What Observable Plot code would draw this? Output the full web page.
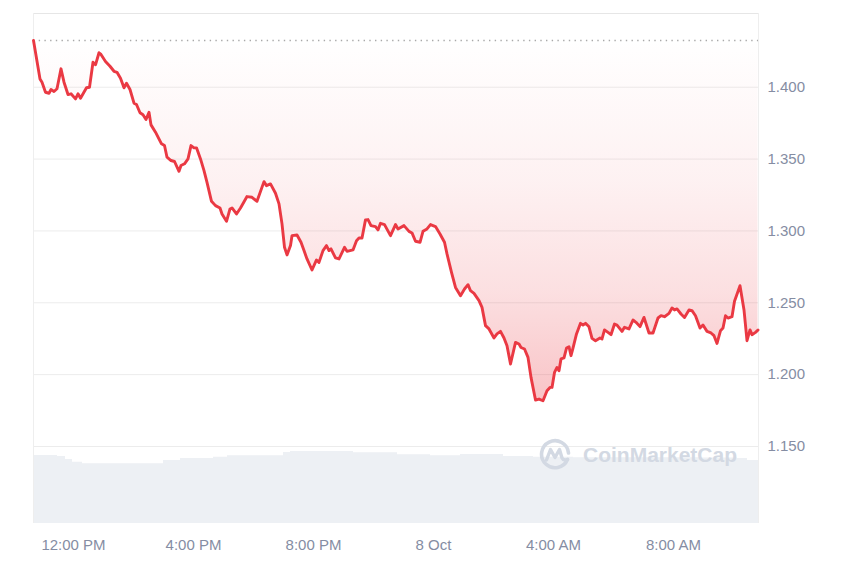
<!DOCTYPE html>
<html><head><meta charset="utf-8">
<script src="https://cdn.jsdelivr.net/npm/d3@7"></script>
<script src="https://cdn.jsdelivr.net/npm/@observablehq/plot@0.6"></script>
<style>
body{margin:0;background:#fff;}
#wrap{position:relative;width:850px;height:567px;font-family:"Liberation Sans",Arial,sans-serif;}
#wrap svg.layer{position:absolute;left:0;top:0;}
#wm{position:absolute;left:538px;top:438px;display:flex;align-items:center;gap:11px;color:#d3d9e3;font-weight:700;font-size:21px;font-family:"Liberation Sans",Arial,sans-serif;}
</style></head><body><div id="wrap"></div>
<script>
// ---- price series (day-time, price) ----
const priceTimes = [
"07T10:40","07T10:53","07T10:57","07T11:04","07T11:11","07T11:15","07T11:21","07T11:27","07T11:35","07T11:41",
"07T11:49","07T11:55","07T12:04","07T12:09","07T12:14","07T12:26","07T12:32","07T12:39","07T12:44","07T12:51",
"07T12:55","07T13:04","07T13:13","07T13:21","07T13:27","07T13:34","07T13:41","07T13:46","07T13:53","07T14:01",
"07T14:06","07T14:13","07T14:19","07T14:25","07T14:31","07T14:35","07T14:44","07T14:56","07T15:02","07T15:07",
"07T15:15","07T15:22","07T15:31","07T15:35","07T15:42","07T15:49","07T15:55","07T16:01","07T16:06","07T16:14",
"07T16:21","07T16:27","07T16:36","07T16:44","07T16:53","07T16:57","07T17:06","07T17:13","07T17:17","07T17:26",
"07T17:34","07T17:47","07T17:57","07T18:07","07T18:21","07T18:26","07T18:34","07T18:44","07T18:51","07T18:57",
"07T19:02","07T19:07","07T19:14","07T19:17","07T19:27","07T19:35","07T19:41","07T19:47","07T19:57","07T20:06",
"07T20:11","07T20:19","07T20:26","07T20:31","07T20:35","07T20:44","07T20:51","07T21:02","07T21:07","07T21:19",
"07T21:26","07T21:31","07T21:37","07T21:44","07T21:49","07T21:55","07T22:04","07T22:09","07T22:14","07T22:22",
"07T22:34","07T22:44","07T22:49","07T23:01","07T23:11","07T23:17","07T23:24","07T23:33","07T23:39","07T23:47",
"07T23:54","08T00:04","08T00:13","08T00:22","08T00:27","08T00:36","08T00:44","08T00:54","08T01:02","08T01:09",
"08T01:14","08T01:21","08T01:31","08T01:37","08T01:44","08T01:51","08T02:01","08T02:07","08T02:14","08T02:21",
"08T02:27","08T02:34","08T02:44","08T02:51","08T02:55","08T03:02","08T03:09","08T03:15","08T03:24","08T03:31",
"08T03:39","08T03:47","08T03:53","08T03:57","08T04:02","08T04:07","08T04:11","08T04:15","08T04:21","08T04:26",
"08T04:31","08T04:35","08T04:39","08T04:46","08T04:54","08T04:59","08T05:04","08T05:11","08T05:17","08T05:24",
"08T05:33","08T05:37","08T05:42","08T05:49","08T05:55","08T06:02","08T06:07","08T06:17","08T06:22","08T06:31",
"08T06:39","08T06:45","08T06:53","08T07:01","08T07:11","08T07:19","08T07:29","08T07:35","08T07:42","08T07:51",
"08T07:57","08T08:02","08T08:07","08T08:15","08T08:22","08T08:31","08T08:37","08T08:44","08T08:53","08T08:59",
"08T09:07","08T09:15","08T09:21","08T09:27","08T09:34","08T09:39","08T09:44","08T09:49","08T09:57","08T10:02",
"08T10:13","08T10:21","08T10:27","08T10:33","08T10:37","08T10:44","08T10:49"
];
const priceValues = [
1.4325,1.4058,1.4035,1.3965,1.3958,1.3984,1.3970,1.3989,1.4128,1.4035,
1.3949,1.3954,1.3919,1.3954,1.3923,1.3996,1.4000,1.4174,1.4156,1.4240,
1.4228,1.4179,1.4146,1.4111,1.4104,1.4063,1.3996,1.4028,1.3984,1.3889,
1.3880,1.3822,1.3808,1.3775,1.3826,1.3738,1.3687,1.3606,1.3594,1.3513,
1.3490,1.3483,1.3415,1.3455,1.3467,1.3501,1.3594,1.3578,1.3578,1.3501,
1.3420,1.3338,1.3206,1.3176,1.3160,1.3118,1.3067,1.3153,1.3160,1.3118,
1.3160,1.3239,1.3234,1.3206,1.3343,1.3315,1.3327,1.3262,1.3188,1.3049,
1.2886,1.2833,1.2898,1.2967,1.2972,1.2921,1.2863,1.2805,1.2728,1.2798,
1.2781,1.2863,1.2898,1.2863,1.2875,1.2812,1.2805,1.2886,1.2858,1.2868,
1.2932,1.2951,1.2951,1.3077,1.3079,1.3037,1.3030,1.3007,1.3053,1.3044,
1.2967,1.3044,1.3014,1.3037,1.2997,1.2986,1.2928,1.2921,1.2997,1.3014,
1.3044,1.3030,1.2979,1.2921,1.2840,1.2712,1.2607,1.2549,1.2596,1.2626,
1.2584,1.2565,1.2515,1.2468,1.2341,1.2318,1.2255,1.2283,1.2301,1.2255,
1.2201,1.2074,1.2224,1.2213,1.2189,1.2178,1.2120,1.1981,1.1823,1.1830,
1.1818,1.1888,1.1911,1.1911,1.2015,1.2050,1.2027,1.2109,1.2116,1.2185,
1.2194,1.2132,1.2185,1.2283,1.2357,1.2345,1.2357,1.2333,1.2252,1.2236,
1.2255,1.2248,1.2311,1.2294,1.2278,1.2352,1.2345,1.2301,1.2329,1.2318,
1.2380,1.2364,1.2334,1.2398,1.2290,1.2290,1.2394,1.2410,1.2403,1.2426,
1.2464,1.2450,1.2457,1.2422,1.2398,1.2450,1.2445,1.2410,1.2324,1.2345,
1.2301,1.2290,1.2271,1.2217,1.2306,1.2324,1.2410,1.2394,1.2403,1.2510,
1.2619,1.2450,1.2236,1.2311,1.2278,1.2294,1.2311
];
// ---- volume (relative units, millions) ----
const volumeTimes = ["07T10:40","07T11:28","07T11:44","07T11:58","07T12:18","07T14:20","07T15:00","07T15:34","07T16:40","07T17:08",
"07T18:48","07T19:00","07T19:14","07T21:14","07T21:20","07T22:08","07T22:48","07T23:54","08T00:54","08T01:54",
"08T02:20","08T03:20","08T04:40","08T08:54","08T10:08","08T10:28","08T10:50"];
const volumeValues = [9.31,9.17,8.76,8.39,8.17,8.17,8.62,8.90,9.08,9.27,
9.27,9.72,9.86,9.86,9.68,9.68,9.41,9.27,9.45,9.45,
9.17,9.08,9.00,8.97,8.90,8.62,8.62];
// ---- axes ----
const xTickTimes = ["07T12:00","07T16:00","07T20:00","08T00:00","08T04:00","08T08:00"];
const xTickLabels = ["12:00 PM","4:00 PM","8:00 PM","8 Oct","4:00 AM","8:00 AM"];
const yTickValues = [1.15,1.20,1.25,1.30,1.35,1.40];
const yTickLabels = ["1.150","1.200","1.250","1.300","1.350","1.400"];
const openPrice = 1.4325;
const xStart = "07T10:40", xEnd = "08T10:50";
const yDomain = [1.0964, 1.4513];

const parse = s => new Date("2024-10-" + s);
const price = priceTimes.map((t,i) => ({t: parse(t), p: priceValues[i]}));
const volume = volumeTimes.map((t,i) => ({t: parse(t), v: volumeValues[i]}));
const xTicks = xTickTimes.map(parse);
const xDomain = [parse(xStart), parse(xEnd)];

const W = 850, H = 567, mL = 33, mR = 92, mT = 13, mB = 44;
const font = '"Liberation Sans", Arial, sans-serif';

const volPlot = Plot.plot({
  width: W, height: H, marginLeft: mL, marginRight: mR, marginTop: 450, marginBottom: mB,
  x: {type: "time", domain: xDomain, axis: null},
  y: {domain: [0, 10], axis: null},
  style: {background: "transparent"},
  marks: [
    Plot.areaY(volume, {x: "t", y: "v", curve: "step-after", fill: "#edf0f4"})
  ]
});
volPlot.classList.add("layer");

const main = Plot.plot({
  width: W, height: H, marginLeft: mL, marginRight: mR, marginTop: mT, marginBottom: mB,
  style: {background: "transparent", fontFamily: font, fontSize: "15px", color: "#858da3"},
  x: {type: "time", domain: xDomain, ticks: xTicks, tickSize: 0, tickPadding: 16, label: null,
      tickFormat: d => xTickLabels[xTicks.findIndex(u => +u === +d)]},
  y: {domain: yDomain, axis: "right", ticks: yTickValues, tickSize: 0, tickPadding: 9, label: null,
      tickFormat: d => yTickLabels[yTickValues.findIndex(u => Math.abs(u - d) < 1e-9)]},
  marks: [
    Plot.ruleY(yTickValues, {stroke: "#ececec", strokeWidth: 1}),
    Plot.ruleY([yDomain[1]], {stroke: "#e6e6e6"}),
    Plot.ruleX(xDomain, {stroke: "#eeeeee"}),
    Plot.areaY(price, {x: "t", y1: "p", y2: d => openPrice, fill: "url(#redFade)"}),
    Plot.ruleY([openPrice], {stroke: "#a9a9a9", strokeWidth: 1.4, strokeDasharray: "1.4,4.3"}),
    Plot.lineY(price, {x: "t", y: "p", stroke: "#ea3943", strokeWidth: 2.9, strokeLinejoin: "round", strokeLinecap: "round"})
  ]
});
main.classList.add("layer");

// gradient definition
const NS = "http://www.w3.org/2000/svg";
const defs = document.createElementNS(NS, "defs");
const grad = document.createElementNS(NS, "linearGradient");
grad.setAttribute("id", "redFade");
grad.setAttribute("x1", "0"); grad.setAttribute("y1", "0");
grad.setAttribute("x2", "0"); grad.setAttribute("y2", "1");
[[0, 0], [0.39, 0.07], [0.7, 0.16], [1, 0.3]].forEach(([o, a]) => {
  const s = document.createElementNS(NS, "stop");
  s.setAttribute("offset", o);
  s.setAttribute("stop-color", "#ea3943");
  s.setAttribute("stop-opacity", a);
  grad.appendChild(s);
});
defs.appendChild(grad);
main.insertBefore(defs, main.firstChild);

const wrap = document.getElementById("wrap");
wrap.appendChild(volPlot);
wrap.appendChild(main);

// watermark
const wm = document.createElement("div");
wm.id = "wm";
wm.innerHTML = '<svg width="34" height="34" viewBox="0 0 34 34"><path d="M29.5 21.5 A13.5 13.5 0 1 1 30.5 15" fill="none" stroke="#d3d9e3" stroke-width="3.6" stroke-linecap="round"/><path d="M8.5 22 L12.5 11.5 L17 19.5 L21.5 11.5 L24 20 Q25.5 23 29.5 21.5" fill="none" stroke="#d3d9e3" stroke-width="3.4" stroke-linejoin="round" stroke-linecap="round"/></svg><span>CoinMarketCap</span>';
wrap.appendChild(wm);
</script>
</body></html>
